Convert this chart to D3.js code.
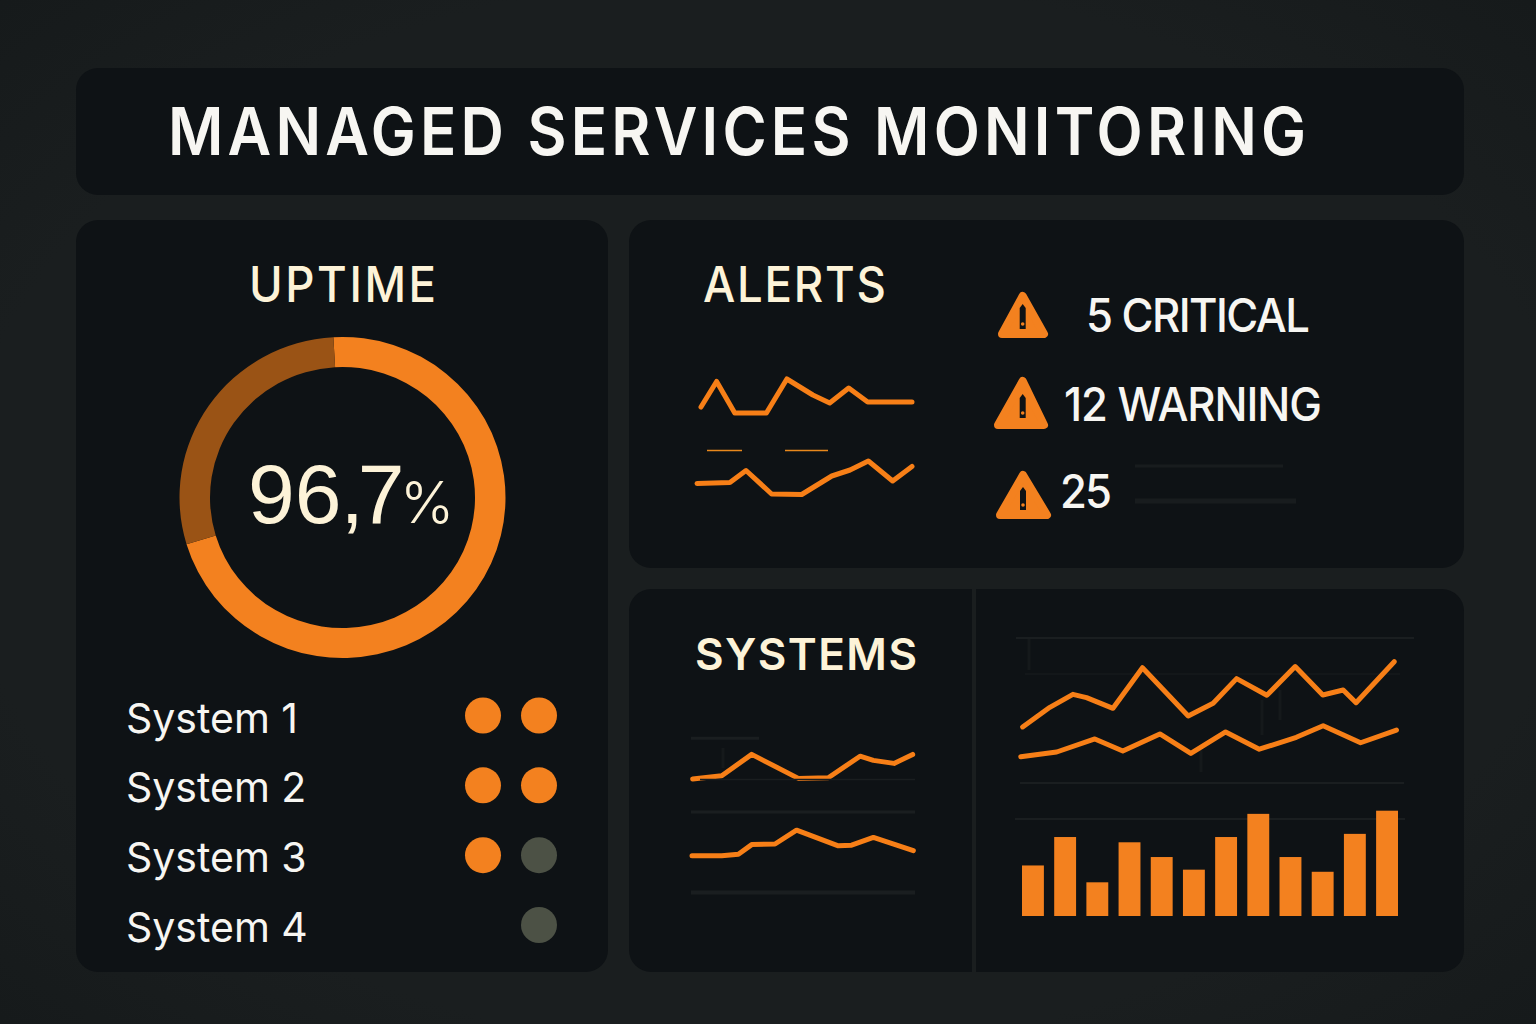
<!DOCTYPE html>
<html>
<head>
<meta charset="utf-8">
<script src="https://cdn.jsdelivr.net/npm/d3@7"></script>
<style>
  html, body { margin: 0; padding: 0; background: #1a1e1f; }
  svg { display: block; }
  text { font-family: Inter, "Noto Sans", sans-serif; }
</style>
</head>
<body>
<svg id="chart" width="1536" height="1024"></svg>
<script>
// data
const titleText = "MANAGED SERVICES MONITORING";

const uptimeLabel = "96,7";
const ringParts = [71.2, 28.8];

const systemNames = ["System 1", "System 2", "System 3", "System 4"];
const statusLeft = [1, 1, 1, null];
const statusRight = [1, 1, 0, 0];

const alertLabels = ["5 CRITICAL", "12 WARNING", "25"];

const alertTopX = [0, 7.4, 16, 31, 40.7, 53, 61, 70, 79, 100];
const alertTopY = [26, 77, 14, 14, 82, 50, 34, 64, 36, 36];
const alertLowX = [0, 15.3, 22.8, 34.7, 48.7, 62.7, 71.2, 79.7, 91, 100];
const alertLowY = [43, 45, 69, 22, 21, 58, 70, 88, 48, 77];

const sysTopX = [0.3, 13.4, 26.9, 47.9, 61.4, 75.7, 81.7, 91, 99.4];
const sysTopY = [35, 40.5, 76, 36, 37, 73, 66, 61, 76];
const sysLowX = [0, 13.4, 20.9, 26.9, 37.4, 47.1, 65.9, 71.9, 81.7, 99.7];
const sysLowY = [40.5, 40.5, 43, 59, 60, 83, 57, 58, 71, 49];

const mainTopX = [0.7, 7.9, 14, 17.6, 24.6, 32.4, 44.5, 51.1, 57.3, 65.3, 72.8, 80.1, 85.5, 88.9, 99];
const mainTopY = [37.9, 51.9, 61.2, 58.8, 51.2, 80.2, 45.7, 54.8, 72.4, 60.5, 81, 60.7, 64.3, 55.2, 84.5];
const mainLowX = [0.2, 9.7, 19.8, 27.2, 37, 45.2, 54.4, 63.3, 73.1, 80.2, 90.1, 99.6];
const mainLowY = [16.6, 20, 29.3, 20.7, 32.9, 19, 34.3, 22, 30.5, 38.8, 26.6, 35.7];

const barValues = [48, 75, 32, 70, 56, 44, 75, 97, 56, 42, 78, 100];

const ORANGE = "#f3811f";
const LINE = "#f77f17";
const PANEL = "#0e1215";
const GRID = "#1a1e20";
const CREAM = "#fdf3d8";
const WHITE = "#f7f6f2";

var svg = d3.select("#chart");

var defs = svg.append("defs");
var grad = defs.append("radialGradient").attr("id", "bg").attr("r", "0.75");
grad.append("stop").attr("offset", "0.7").attr("stop-color", "#1a1e1f");
grad.append("stop").attr("offset", "1").attr("stop-color", "#15191a");
svg.append("rect").attr("width", 1536).attr("height", 1024).attr("fill", "url(#bg)");

// panels
function panel(x, y, w, h) {
  svg.append("rect").attr("x", x).attr("y", y).attr("width", w).attr("height", h)
    .attr("rx", 22).attr("fill", PANEL);
}
panel(76, 68, 1388, 127);
panel(76, 220, 532, 752);
panel(629, 220, 835, 348);
panel(629, 589, 835, 383);
svg.append("rect").attr("x", 972).attr("y", 589).attr("width", 4).attr("height", 383).attr("fill", "#1a1e1f");

function label(txt, x, y, size, weight, color, length, font) {
  var t = svg.append("text").attr("x", x).attr("y", y).text(txt)
    .attr("font-size", size).attr("font-weight", weight).attr("fill", color);
  if (length) t.attr("textLength", length).attr("lengthAdjust", "spacing");
  if (font) t.style("font-family", font);
  return t;
}

// narrower glyphs with wider gaps, the fonts here have no condensed cut
function squeezed(txt, x, y, size, weight, color, length, sx) {
  return svg.append("text")
    .attr("transform", "translate(" + x + "," + y + ") scale(" + sx + ",1)")
    .text(txt)
    .attr("font-size", size).attr("font-weight", weight).attr("fill", color)
    .attr("textLength", length / sx).attr("lengthAdjust", "spacing");
}

squeezed(titleText, 168, 155, 66, 600, WHITE, 1138, 0.91);
squeezed("UPTIME", 249, 302, 49, 500, CREAM, 187, 0.93);
squeezed("ALERTS", 703, 302, 49, 500, CREAM, 183, 0.93);
label("SYSTEMS", 695, 670, 44, 600, CREAM, 222);

// uptime ring
var pie = d3.pie().sort(null).startAngle(-0.056).endAngle(2 * Math.PI - 0.056);
var arc = d3.arc().innerRadius(132.5).outerRadius(163);
svg.append("g").attr("transform", "translate(342.5,497.5) scale(1,0.985)")
  .selectAll("path")
  .data(pie(ringParts))
  .join("path")
  .attr("d", arc)
  .attr("fill", (d, i) => i == 0 ? ORANGE : "#9a5315");

label(uptimeLabel, 248, 523, 84, 400, CREAM, null, "Liberation Sans").attr("dx", "0 0 -1 -6");
label("%", 400, 523, 58, 300, CREAM);

// system list
var rowY = d3.scalePoint().domain(systemNames).range([715.5, 925]);
systemNames.forEach(function(name, i) {
  label(name, 126, rowY(name) + 17, 41, 400, WHITE);
  [[483, statusLeft[i]], [539, statusRight[i]]].forEach(function(s) {
    if (s[1] === null) return;
    svg.append("circle").attr("cx", s[0]).attr("cy", rowY(name)).attr("r", 18)
      .attr("fill", s[1] ? ORANGE : "#4c5145");
  });
});

// small line charts
function lineChart(xs, ys, xRange, yRange, width) {
  var x = d3.scaleLinear().domain([0, 100]).range(xRange);
  var y = d3.scaleLinear().domain([0, 100]).range(yRange);
  var line = d3.line().x(d => x(d[0])).y(d => y(d[1]));
  svg.append("path").datum(d3.zip(xs, ys))
    .attr("d", line)
    .attr("fill", "none").attr("stroke", LINE)
    .attr("stroke-width", width || 5)
    .attr("stroke-linejoin", "round").attr("stroke-linecap", "round");
  return y;
}

function rule(x1, x2, y, width, color) {
  svg.append("line").attr("x1", x1).attr("x2", x2).attr("y1", y).attr("y2", y)
    .attr("stroke", color || GRID).attr("stroke-width", width || 2);
}
function vrule(x, y1, y2) {
  svg.append("line").attr("x1", x).attr("x2", x).attr("y1", y1).attr("y2", y2)
    .attr("stroke", "#15191b").attr("stroke-width", 3);
}

// alerts
lineChart(alertTopX, alertTopY, [701, 912], [420, 370]);
lineChart(alertLowX, alertLowY, [697, 912], [505, 455]);
rule(707, 742, 450.5, 1.3, "#e8881c");
rule(785, 828, 450.5, 1.3, "#e8881c");

function triangle(left, right, apex, base, apexX, slit) {
  var p = d3.path();
  p.moveTo(apexX, apex + 4);
  p.lineTo(right - 4, base - 4);
  p.lineTo(left + 4, base - 4);
  p.closePath();
  svg.append("path").attr("d", p.toString()).attr("fill", ORANGE)
    .attr("stroke", ORANGE).attr("stroke-width", 8).attr("stroke-linejoin", "round");
  var m = d3.path();
  m.moveTo(apexX, slit[0]);
  m.lineTo(apexX + 3, slit[0] + 4);
  m.lineTo(apexX + 3, slit[1]);
  m.lineTo(apexX - 3, slit[1]);
  m.lineTo(apexX - 3, slit[0] + 4);
  m.closePath();
  svg.append("path").attr("d", m.toString()).attr("fill", PANEL);
  svg.append("circle").attr("cx", apexX).attr("cy", slit[1] - 5).attr("r", 1.8).attr("fill", ORANGE);
}
triangle(998, 1048, 292, 338, 1022.7, [304, 329]);
triangle(994, 1048, 377, 429, 1022.7, [394, 418]);
triangle(996, 1051, 471, 519, 1023, [487, 510]);

squeezed(alertLabels[0], 1086, 332, 46, 500, WHITE, 224, 0.95);
squeezed(alertLabels[1], 1064, 421, 46, 500, WHITE, 258, 0.95);
squeezed(alertLabels[2], 1060, 508, 46, 500, WHITE, 52, 0.95);
rule(1135, 1283, 466, 3, "#181c1e");
rule(1135, 1296, 501, 5, "#181c1e");

// systems, left side
vrule(723, 748, 768);
var sysY = lineChart(sysTopX, sysTopY, [692, 914], [800, 740]);
rule(691, 759, sysY(103), 3);
rule(700, 915, sysY(34), 1.5);
rule(691, 915, sysY(-20), 3);
var sysY2 = lineChart(sysLowX, sysLowY, [692, 914], [880, 820]);
rule(691, 915, sysY2(-21), 4);

// systems, right side
vrule(1029, 638, 670);
vrule(1262, 700, 735);
vrule(1280, 690, 720);
vrule(1201, 750, 772);
var mainY = d3.scaleLinear().domain([0, 100]).range([780, 640]);
rule(1016, 1414, mainY(101.4), 2);
rule(1025, 1400, mainY(75.7), 1);
rule(1020, 1404, mainY(-2.1), 2);
lineChart(mainTopX, mainTopY, [1020, 1398], [780, 640]);
lineChart(mainLowX, mainLowY, [1020, 1398], [780, 640]);

var barX = d3.scaleBand().domain(d3.range(barValues.length)).range([1022, 1398]).paddingInner(0.32);
var barY = d3.scaleLinear().domain([0, 100]).range([916, 810.7]);
rule(1015, 1405, barY(92), 2);
svg.append("g").selectAll("rect")
  .data(barValues)
  .join("rect")
  .attr("x", (d, i) => barX(i))
  .attr("y", d => barY(d))
  .attr("width", barX.bandwidth())
  .attr("height", d => barY(0) - barY(d))
  .attr("fill", ORANGE);
</script>
</body>
</html>
